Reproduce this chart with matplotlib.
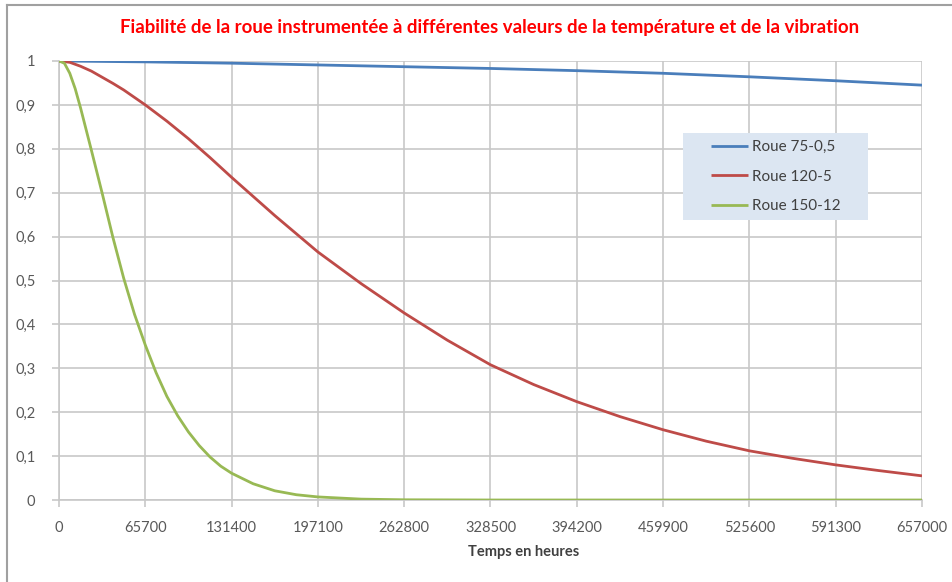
import matplotlib
matplotlib.use("Agg")
import matplotlib.pyplot as plt
from matplotlib.lines import Line2D
from matplotlib.patches import Rectangle

plt.rcParams["font.family"] = ["Lato", "DejaVu Sans"]

# temps (heures) et fiabilité lue pour chaque roue
t_blue = [0, 65700, 131400, 197100, 262800, 328500, 394200, 459900, 525600, 591300, 657000]
r_blue = [1.0, 0.998, 0.995, 0.991, 0.987, 0.983, 0.978, 0.972, 0.964, 0.955, 0.945]

t_red = [0, 8212, 16425, 24637, 32850, 41062, 49275, 57487, 65700, 82125, 98550,
         114975, 131400, 164250, 197100, 229950, 262800, 295650, 328500, 361350,
         394200, 427050, 459900, 492750, 525600, 558450, 591300, 624150, 657000]
r_red = [1.0, 0.997, 0.988, 0.977, 0.963, 0.949, 0.934, 0.917, 0.900, 0.863, 0.823,
         0.780, 0.735, 0.648, 0.565, 0.493, 0.426, 0.364, 0.308, 0.263,
         0.224, 0.190, 0.160, 0.134, 0.112, 0.095, 0.080, 0.067, 0.055]

t_green = [0, 4106, 8212, 12318, 16425, 24637, 32850, 41062, 49275, 57487, 65700,
           73912, 82125, 90337, 98550, 106762, 114975, 123187, 131400, 147825,
           164250, 180675, 197100, 229950, 262800, 328500, 394200, 459900, 525600,
           591300, 657000]
r_green = [1.0, 0.995, 0.972, 0.937, 0.893, 0.797, 0.699, 0.598, 0.505, 0.423, 0.353,
           0.290, 0.236, 0.192, 0.155, 0.124, 0.098, 0.077, 0.061, 0.037,
           0.021, 0.012, 0.007, 0.002, 0.0005, 0.0, 0.0, 0.0, 0.0,
           0.0, 0.0]

labels = ["Roue 75-0,5", "Roue 120-5", "Roue 150-12"]
colors = ["#4A7EBB", "#BE4B48", "#98B954"]

x_ticks = [0, 65700, 131400, 197100, 262800, 328500, 394200, 459900, 525600, 591300, 657000]
y_ticks = [0, 0.1, 0.2, 0.3, 0.4, 0.5, 0.6, 0.7, 0.8, 0.9, 1.0]

W, H = 953, 582
fig = plt.figure(figsize=(W / 100, H / 100), dpi=100)
ax = fig.add_axes([59 / W, 1 - 500 / H, (922 - 59) / W, (500 - 61) / H])

for t, r, lab, c in zip((t_blue, t_red, t_green), (r_blue, r_red, r_green), labels, colors):
    ax.plot(t, r, color=c, linewidth=2.0, label=lab, solid_capstyle="butt", zorder=3)

ax.set_xlim(0, 657000)
ax.set_ylim(0, 1)
ax.set_xticks(x_ticks)
ax.set_xticklabels([str(v) for v in x_ticks])
ax.set_yticks(y_ticks)
ax.set_yticklabels(["0" if v == 0 else ("1" if v == 1 else f"{v:.1f}".replace(".", ","))
                    for v in y_ticks])

grid_c = "#C8C8C8"
ax.grid(True, color=grid_c, linewidth=1.2, zorder=0)
ax.set_axisbelow(True)
for side in ("top", "right"):
    ax.spines[side].set_visible(False)
for side in ("left", "bottom"):
    ax.spines[side].set_color(grid_c)
    ax.spines[side].set_linewidth(1.2)
ax.tick_params(axis="both", colors=grid_c, length=5, width=1.2, labelsize=10.5,
               labelcolor="#595959")
ax.tick_params(axis="x", pad=10)
ax.tick_params(axis="y", pad=12)

fig.text(490 / W, 1 - 27 / H, "Fiabilité de la roue instrumentée à différentes valeurs "
         "de la température et de la vibration", color="#FF0000", fontsize=13.4,
         fontweight="bold", ha="center", va="center")
fig.text(524 / W, 1 - 552 / H, "Temps en heures", color="#404040", fontsize=10.5,
         fontweight="bold", ha="center", va="center")

# fond de la légende, dessiné à part pour garder les marges d'origine
ax.add_patch(Rectangle((683 / W, 1 - 220 / H), (868 - 683) / W, (220 - 133) / H,
                       transform=fig.transFigure, facecolor="#DCE6F2",
                       edgecolor="none", zorder=4, clip_on=False))
leg = ax.legend(loc="upper left", bbox_to_anchor=(711 / W, 1 - 140 / H),
                bbox_transform=fig.transFigure, frameon=False,
                fontsize=11, handlelength=2.4, handletextpad=0.26,
                labelspacing=1.03, borderpad=0, borderaxespad=0)
leg.set_zorder(5)
for txt in leg.get_texts():
    txt.set_color("#404040")

# cadre extérieur du graphique
fig.add_artist(Line2D([7 / W, 1], [1 - 5 / H, 1 - 5 / H], color="#A0A0A0", linewidth=1.5))
fig.add_artist(Line2D([7 / W, 7 / W], [0, 1 - 5 / H], color="#A0A0A0", linewidth=1.5))

fig.savefig("out.png", dpi=100)
